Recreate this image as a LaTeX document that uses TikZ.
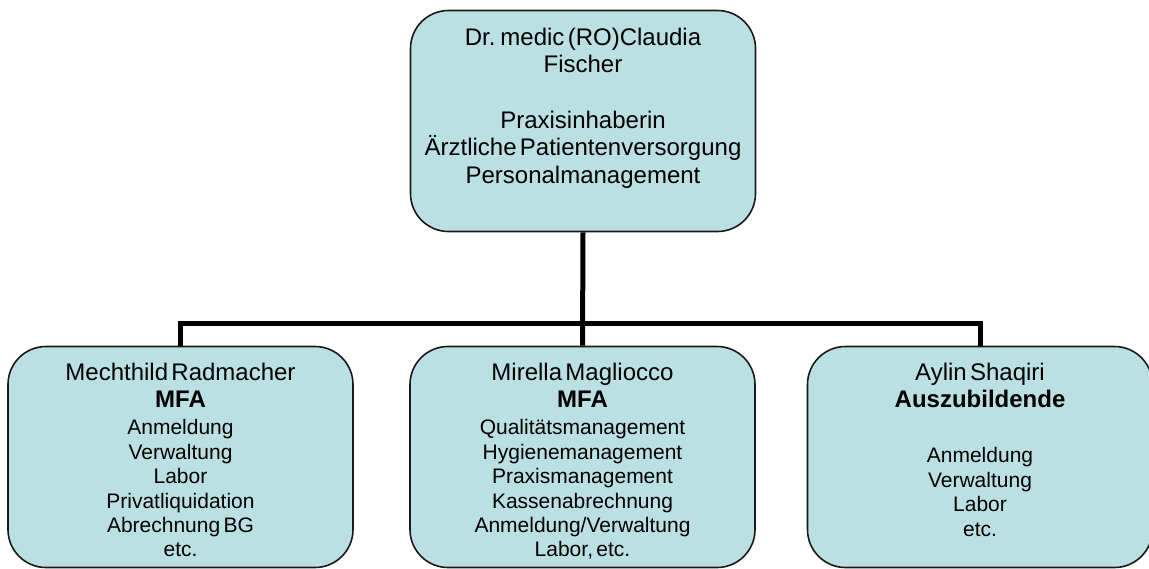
\documentclass[tikz,border=0pt]{standalone}
\usepackage{fontspec}
\setmainfont{Liberation Sans}
\usetikzlibrary{positioning}
\definecolor{boxfill}{RGB}{187,224,227}
\definecolor{boxline}{RGB}{25,25,25}
\newcommand{\namefont}{\fontsize{24}{27.6}\selectfont}
\newcommand{\taskfont}{\fontsize{21}{24.4}\selectfont}

\begin{document}
\begin{tikzpicture}[
    x=1pt, y=1pt,
    box/.style={draw=boxline, line width=1.6pt, fill=boxfill, rounded corners=38pt,
                minimum width=345pt, minimum height=221pt, inner sep=0pt},
    txt/.style={text width=335pt, align=center, inner sep=0pt},
    conn/.style={line width=5pt, line join=miter}
  ]
  \useasboundingbox (0,0) rectangle (1149,-568);
  \node[box] (chef) at (583,-121) {};
  \node[box] (mfaA) at (180.5,-457) {};
  \node[box] (mfaB) at (582.5,-457) {};
  \node[box] (azubi) at (980,-457) {};
  \coordinate (bus) at (583,-323);
  % connectors
  \draw[conn] (chef.south) -- (mfaB.north);
  \draw[conn] (mfaA.north) |- (bus) -| (azubi.north);
  % texts
  \node[txt, below=18pt of chef.north] (chefText) {\namefont
    Dr. medic (RO)Claudia\\Fischer\\[27.6pt]Praxisinhaberin\\
    Ärztliche Patientenversorgung\\Personalmanagement\par};
  \node[txt, below=17pt of mfaA.north] (mfaAText) {\namefont
    Mechthild Radmacher\\\textbf{MFA}\par\vspace{2.6pt}\taskfont
    Anmeldung\\Verwaltung\\Labor\\Privatliquidation\\Abrechnung BG\\etc.\par};
  \node[txt, below=17pt of mfaB.north] (mfaBText) {\namefont
    Mirella Magliocco\\\textbf{MFA}\par\vspace{2.6pt}\taskfont
    Qualitätsmanagement\\Hygienemanagement\\Praxismanagement\\
    Kassenabrechnung\\Anmeldung/Verwaltung\\Labor, etc.\par};
  \node[txt, below=17pt of azubi.north] (azubiText) {\namefont
    Aylin Shaqiri\\\textbf{Auszubildende}\par\vspace{30.6pt}\taskfont
    Anmeldung\\Verwaltung\\Labor\\etc.\par};
\end{tikzpicture}
\end{document}
